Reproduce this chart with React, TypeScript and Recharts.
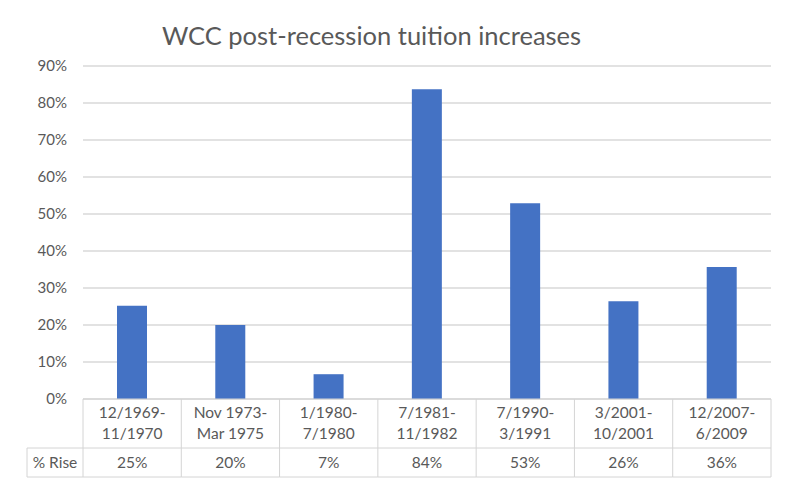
import { BarChart, Bar, XAxis, YAxis, CartesianGrid } from "recharts"

const periodsTop = ["12/1969-", "Nov 1973-", "1/1980-", "7/1981-", "7/1990-", "3/2001-", "12/2007-"]
const periodsBottom = ["11/1970", "Mar 1975", "7/1980", "11/1982", "3/1991", "10/2001", "6/2009"]
const riseValues = [25.2, 20.0, 6.7, 83.7, 52.9, 26.4, 35.7]
const riseLabels = ["25%", "20%", "7%", "84%", "53%", "26%", "36%"]
const yTicks = [0, 10, 20, 30, 40, 50, 60, 70, 80, 90]

const data = periodsTop.map((top, i) => ({
    period: top + " " + periodsBottom[i],
    rise: riseValues[i],
}))

const W = 787
const H = 485
const PLOT_LEFT = 83
const PLOT_RIGHT = 771
const PLOT_TOP = 66
const PLOT_BOTTOM = 399
const BAND = (PLOT_RIGHT - PLOT_LEFT) / data.length
const ROW1 = 448
const ROW2 = 477
const HEADER_LEFT = 27
const FONT = "Lato, 'Open Sans', sans-serif"
const TEXT = "#595959"
const LINE = "#d4d4d4"

const TableTick = (props: any) => {
    const { x, index } = props
    const l = x - BAND / 2
    const r = x + BAND / 2
    return (
        <g fontFamily={FONT} fontSize={15.5} fill={TEXT}>
            {index === 0 && (
                <g>
                    <line x1={l} y1={PLOT_BOTTOM} x2={l} y2={ROW2} stroke={LINE} />
                    <line x1={HEADER_LEFT} y1={ROW1} x2={l} y2={ROW1} stroke={LINE} />
                    <line x1={HEADER_LEFT} y1={ROW2} x2={l} y2={ROW2} stroke={LINE} />
                    <line x1={HEADER_LEFT} y1={ROW1} x2={HEADER_LEFT} y2={ROW2} stroke={LINE} />
                    <text x={(HEADER_LEFT + l) / 2} y={468} textAnchor="middle" stroke="none">% Rise</text>
                </g>
            )}
            <line x1={r} y1={PLOT_BOTTOM} x2={r} y2={ROW2} stroke={LINE} />
            <line x1={l} y1={ROW1} x2={r} y2={ROW1} stroke={LINE} />
            <line x1={l} y1={ROW2} x2={r} y2={ROW2} stroke={LINE} />
            <text x={x} y={418} textAnchor="middle" stroke="none">{periodsTop[index]}</text>
            <text x={x} y={439} textAnchor="middle" stroke="none">{periodsBottom[index]}</text>
            <text x={x} y={468} textAnchor="middle" stroke="none">{riseLabels[index]}</text>
        </g>
    )
}

const App = () => {
    return (
        <div style={{ position: "absolute", left: 0, top: 0, width: W, height: H, background: "#fff" }}>
            <div style={{ position: "absolute", left: 0, top: 19, width: 743, textAlign: "center", fontFamily: FONT, fontSize: 25.5, color: TEXT, lineHeight: "32px" }}>
                WCC post-recession tuition increases
            </div>
            <BarChart
                width={W}
                height={H}
                data={data}
                margin={{ top: PLOT_TOP, right: W - PLOT_RIGHT, bottom: 0, left: 0 }}
                barCategoryGap={0}
            >
                <CartesianGrid vertical={false} stroke="#d9d9d9" strokeWidth={1.3} />
                <YAxis
                    width={PLOT_LEFT}
                    domain={[0, 90]}
                    ticks={yTicks}
                    tickFormatter={(v: number) => `${v}%`}
                    axisLine={false}
                    tickLine={false}
                    tickMargin={10}
                    tick={{ fill: TEXT, fontFamily: FONT, fontSize: 15 }}
                />
                <XAxis
                    dataKey="period"
                    height={H - PLOT_BOTTOM}
                    axisLine={{ stroke: LINE }}
                    tickLine={false}
                    interval={0}
                    tick={<TableTick />}
                />
                <Bar dataKey="rise" fill="#4472c4" barSize={30} isAnimationActive={false} />
            </BarChart>
        </div>
    )
}

export default App
